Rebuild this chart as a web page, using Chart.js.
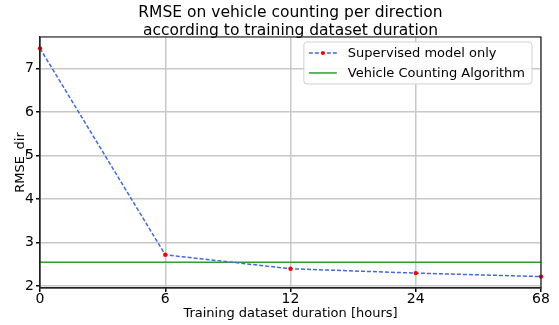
<!DOCTYPE html>
<html lang="en">
<head>
    <meta charset="UTF-8">
    <title>RMSE on vehicle counting</title>
    <script src="https://cdn.jsdelivr.net/npm/chart.js"></script>
    <style>
        body { margin: 0; background: #fff; }
        #wrap { width: 559px; height: 325px; }
    </style>
</head>
<body>
    <div id="wrap"><canvas id="grafico" width="559" height="325"></canvas></div>
    <script>
        // training duration in hours (category axis)
        const duracoes = ['0', '6', '12', '24', '68'];
        const rmseSupervisionado = [7.46, 2.72, 2.40, 2.30, 2.22];
        const rmseAlgoritmo = 2.55;
        const yTicks = [2, 3, 4, 5, 6, 7];

        const fonte = 'DejaVu Sans';
        Chart.defaults.font.family = fonte;
        Chart.defaults.color = '#000';

        // matplotlib-ish frame + legend inside the plot
        const moldura = {
            id: 'moldura',
            afterDraw(chart) {
                const c = chart.ctx, a = chart.chartArea;
                c.save();
                c.strokeStyle = '#222';
                c.lineWidth = 1.2;
                c.strokeRect(a.left, a.top, a.right - a.left, a.bottom - a.top);

                const itens = chart.data.datasets;
                c.font = '13px ' + fonte;
                let larg = 0;
                itens.forEach(d => { larg = Math.max(larg, c.measureText(d.label).width); });
                const w = larg + 51, h = 42;
                const x0 = a.right - 9 - w, y0 = a.top + 5;
                c.fillStyle = 'rgba(255,255,255,0.85)';
                c.strokeStyle = '#d0d0d0';
                c.lineWidth = 1;
                c.beginPath();
                c.roundRect(x0, y0, w, h, 3);
                c.fill();
                c.stroke();
                itens.forEach((d, i) => {
                    const y = y0 + 11 + i * 20;
                    c.strokeStyle = d.borderColor;
                    c.lineWidth = d.borderWidth;
                    c.setLineDash(d.borderDash || []);
                    c.beginPath();
                    c.moveTo(x0 + 5, y);
                    c.lineTo(x0 + 33, y);
                    c.stroke();
                    c.setLineDash([]);
                    if (d.pointRadius > 0) {
                        c.fillStyle = d.pointBackgroundColor;
                        c.beginPath();
                        c.arc(x0 + 19, y, 2, 0, Math.PI * 2);
                        c.fill();
                    }
                    c.fillStyle = '#000';
                    c.textBaseline = 'middle';
                    c.fillText(d.label, x0 + 44, y + 1);
                });
                c.restore();
            }
        };

        const ctx = document.getElementById('grafico').getContext('2d');
        const grafico = new Chart(ctx, {
            type: 'line',
            data: {
                labels: duracoes,
                datasets: [{
                    label: 'Supervised model only',
                    data: rmseSupervisionado,
                    borderColor: '#4169e1',
                    borderWidth: 1.5,
                    borderDash: [4, 2],
                    pointRadius: 2.2,
                    pointBackgroundColor: '#ff0000',
                    pointBorderWidth: 0,
                    tension: 0
                }, {
                    label: 'Vehicle Counting Algorithm',
                    data: duracoes.map(() => rmseAlgoritmo),
                    borderColor: '#2ca02c',
                    borderWidth: 1.5,
                    pointRadius: 0,
                    tension: 0
                }]
            },
            plugins: [moldura],
            options: {
                responsive: false,
                animation: false,
                layout: { padding: { left: 0, right: 18, top: 0, bottom: 4 } },
                plugins: {
                    legend: { display: false },
                    tooltip: { enabled: false },
                    title: {
                        display: true,
                        fullSize: false,
                        text: ['RMSE on vehicle counting per direction', 'according to training dataset duration'],
                        color: '#000',
                        font: { size: 15.5, weight: 'normal', lineHeight: 1.16 },
                        padding: { top: 4, bottom: -3 }
                    }
                },
                scales: {
                    x: {
                        type: 'category',
                        offset: false,
                        grid: { color: '#c8c8c8', lineWidth: 1.5, tickColor: '#000', tickLength: 4 },
                        border: { color: '#222', width: 1.2 },
                        ticks: { font: { size: 14 }, maxRotation: 0, padding: -1 },
                        title: {
                            display: true,
                            text: 'Training dataset duration [hours]',
                            font: { size: 13 },
                            padding: { top: 0, bottom: 0 }
                        },
                        afterFit(s) { s.height = 33; }
                    },
                    y: {
                        min: 1.958,
                        max: 7.722,
                        afterBuildTicks(s) { s.ticks = yTicks.map(v => ({ value: v })); },
                        grid: { color: '#c8c8c8', lineWidth: 1.5, tickColor: '#000', tickLength: 4 },
                        border: { color: '#222', width: 1.2 },
                        ticks: { font: { size: 14 }, padding: 2 },
                        title: {
                            display: true,
                            text: 'RMSE_dir',
                            font: { size: 13 },
                            padding: { top: 13, bottom: 0 }
                        },
                        afterFit(s) { s.width = 40; }
                    }
                }
            }
        });
    </script>
</body>
</html>
